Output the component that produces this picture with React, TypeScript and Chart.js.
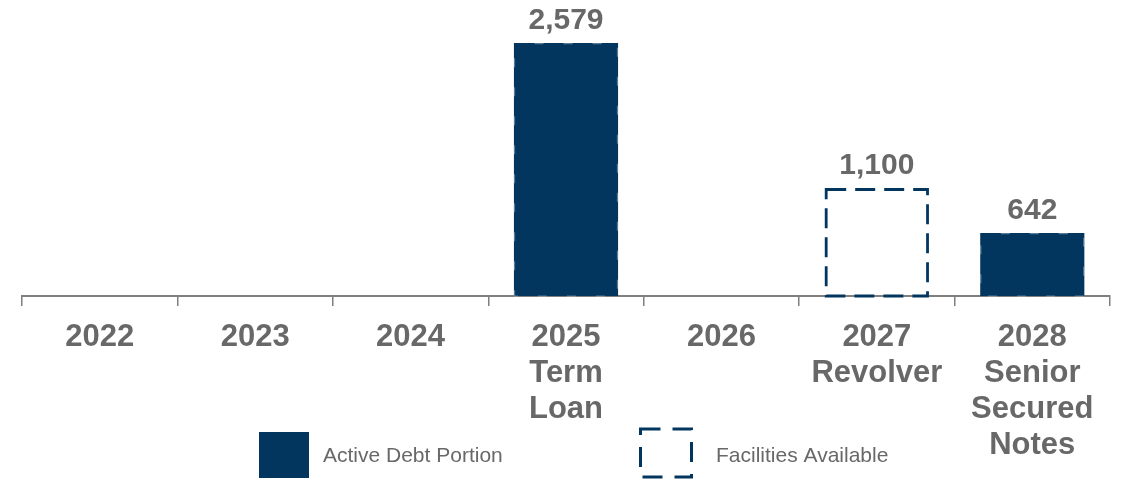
import React, { useEffect, useRef } from "react";
import { Chart, registerables } from "chart.js";

Chart.register(...registerables);

const categories: string[][] = [
  ["2022"],
  ["2023"],
  ["2024"],
  ["2025", "Term", "Loan"],
  ["2026"],
  ["2027", "Revolver"],
  ["2028", "Senior", "Secured", "Notes"],
];
const activeDebt: (number | null)[] = [null, null, null, 2579, null, null, 642];
const facilitiesAvailable: (number | null)[] = [null, null, null, null, null, 1100, null];
const legendLabels: string[] = ["Active Debt Portion", "Facilities Available"];

const NAVY = "#03365F";
const GREY_TEXT = "#686868";
const AXIS = "#7f7f7f";
const FONT = "'Liberation Sans', Arial, Helvetica, sans-serif";

const barDecor = {
  id: "barDecor",
  afterDatasetsDraw(chart: any) {
    const ctx = chart.ctx;
    chart.data.datasets.forEach((ds: any, di: number) => {
      const meta = chart.getDatasetMeta(di);
      meta.data.forEach((bar: any, i: number) => {
        const v = ds.data[i];
        if (v === null || v === undefined) return;
        const { x, y, base, width } = bar.getProps(["x", "y", "base", "width"], true);
        const left = x - width / 2;
        const top = Math.min(y, base);
        const h = Math.abs(base - y);
        ctx.save();
        if (di === 1) {
          ctx.strokeStyle = NAVY;
          ctx.lineWidth = 2.8;
          ctx.setLineDash([20, 9]);
          ctx.strokeRect(left + 1.4, top + 1.4, width - 2.8, h - 1.4);
        } else {
          ctx.strokeStyle = "rgba(255,255,255,0.35)";
          ctx.lineWidth = 1.2;
          ctx.setLineDash([9, 20]);
          ctx.lineDashOffset = -20;
          ctx.strokeRect(left + 0.6, top + 0.6, width - 1.2, h - 0.6);
        }
        ctx.restore();
        ctx.save();
        ctx.fillStyle = GREY_TEXT;
        ctx.font = `bold 30px ${FONT}`;
        ctx.textAlign = "center";
        ctx.textBaseline = "alphabetic";
        ctx.fillText(Number(v).toLocaleString("en-US"), x, top - 14);
        ctx.restore();
      });
    });
  },
};

const customLegend = {
  id: "customLegend",
  afterDraw(chart: any) {
    const ctx = chart.ctx;
    ctx.save();
    ctx.fillStyle = NAVY;
    ctx.fillRect(259, 432, 50, 46);
    ctx.strokeStyle = NAVY;
    ctx.lineWidth = 3;
    ctx.setLineDash([20, 12]);
    ctx.strokeRect(640.5, 429, 51, 48);
    ctx.setLineDash([]);
    ctx.fillStyle = GREY_TEXT;
    ctx.font = `21px ${FONT}`;
    ctx.textAlign = "left";
    ctx.textBaseline = "middle";
    ctx.fillText(legendLabels[0], 323, 456);
    ctx.fillText(legendLabels[1], 716, 456);
    ctx.restore();
  },
};

export default function App() {
  const ref = useRef<HTMLCanvasElement>(null);
  useEffect(() => {
    if (!ref.current) return;
    const chart = new Chart(ref.current, {
      type: "bar",
      data: {
        labels: categories as any,
        datasets: [
          {
            label: legendLabels[0],
            data: activeDebt,
            backgroundColor: NAVY,
            borderWidth: 0,
          },
          {
            label: legendLabels[1],
            data: facilitiesAvailable,
            backgroundColor: "rgba(0,0,0,0)",
            borderWidth: 0,
          },
        ],
      },
      options: {
        animation: false,
        responsive: false,
        devicePixelRatio: 1,
        layout: { padding: { left: 22, right: 12, top: 43, bottom: 3 } },
        datasets: { bar: { barPercentage: 0.67, categoryPercentage: 1 } },
        plugins: {
          legend: { display: false },
          tooltip: { enabled: false },
        },
        scales: {
          x: {
            stacked: true,
            offset: true,
            grid: {
              display: true,
              drawOnChartArea: false,
              drawTicks: true,
              tickLength: 10,
              color: AXIS,
              lineWidth: 1.5,
              offset: true,
            },
            border: { display: true, color: AXIS, width: 2 },
            ticks: {
              color: GREY_TEXT,
              font: { family: FONT, size: 31, weight: "bold", lineHeight: "36px" } as any,
              padding: 13,
              maxRotation: 0,
              autoSkip: false,
            },
          },
          y: {
            display: false,
            stacked: true,
            min: 0,
            max: 2579,
          },
        },
      },
      plugins: [barDecor, customLegend],
    });
    return () => chart.destroy();
  }, []);
  return (
    <div style={{ position: "fixed", left: 0, top: 0, width: 1122, height: 479, background: "#fff" }}>
      <canvas ref={ref} width={1122} height={479} />
    </div>
  );
}
